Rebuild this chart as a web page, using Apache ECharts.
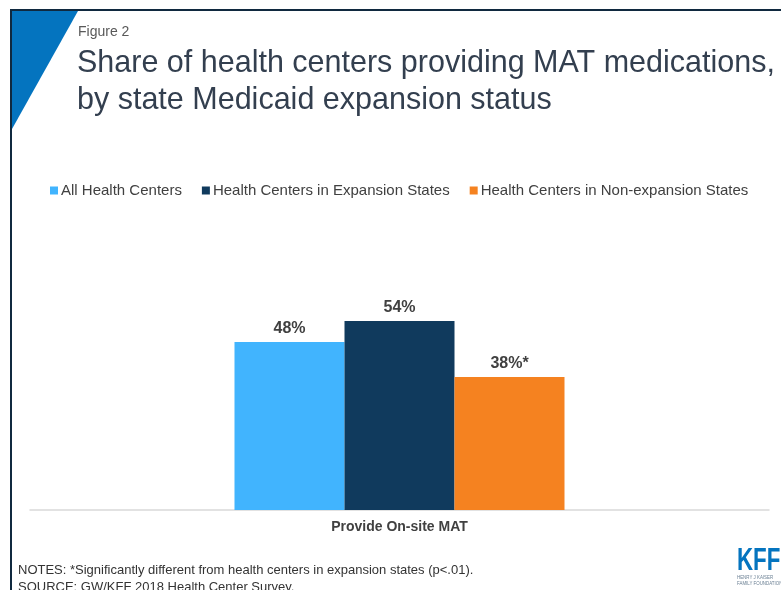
<!DOCTYPE html>
<html>
<head>
<meta charset="utf-8">
<script src="https://cdn.jsdelivr.net/npm/echarts@6/dist/echarts.min.js"></script>
<style>
  html, body { margin: 0; padding: 0; background: #fff; }
  #chart { width: 781px; height: 590px; }
</style>
</head>
<body>
<div id="chart"></div>
<script>
// chart data
var categories = ['Provide On-site MAT']
var seriesNames = ['All Health Centers', 'Health Centers in Expansion States', 'Health Centers in Non-expansion States']
var seriesValues = [[48], [54], [38]]
var valueLabels = [['48%'], ['54%'], ['38%*']]
var seriesColors = ['#41b4fe', '#103a5d', '#f58220']

var chart = echarts.init(document.getElementById('chart'))

var series = seriesNames.map(function (name, i) {
  return {
    name: name,
    type: 'bar',
    data: seriesValues[i],
    barWidth: 110,
    barGap: '0%',
    itemStyle: { color: seriesColors[i] },
    label: {
      show: true,
      position: 'top',
      distance: 5,
      color: '#404040',
      fontWeight: 'bold',
      fontSize: 16,
      fontFamily: 'Liberation Sans, Arial, sans-serif',
      formatter: function (p) { return valueLabels[i][p.dataIndex] }
    },
    animation: false
  }
})

chart.setOption({
  animation: false,
  textStyle: { fontFamily: 'Liberation Sans, Arial, sans-serif' },
  legend: {
    data: seriesNames,
    top: 183,
    left: 50,
    padding: 0,
    icon: 'rect',
    itemWidth: 8,
    itemHeight: 8,
    itemGap: 20,
    textStyle: { fontSize: 15, color: '#404040', padding: [0, 0, 0, -2] }
  },
  grid: { left: 30, right: 12, top: 160, bottom: 80 },
  xAxis: {
    type: 'category',
    data: categories,
    axisLine: { lineStyle: { color: '#d9d9d9', width: 1.5 } },
    axisTick: { show: false },
    axisLabel: { color: '#404040', fontWeight: 'bold', fontSize: 14, margin: 10 }
  },
  yAxis: {
    type: 'value',
    min: 0,
    max: 100,
    show: false,
    splitLine: { show: false }
  },
  series: series,
  graphic: [
    // frame lines
    { type: 'rect', shape: { x: 10, y: 9, width: 771, height: 2 }, style: { fill: '#10293f' } },
    { type: 'rect', shape: { x: 10, y: 9, width: 2, height: 581 }, style: { fill: '#10293f' } },
    // blue corner
    { type: 'polygon', shape: { points: [[12, 11], [78, 11], [12, 129]] }, style: { fill: '#0474bf' } },
    { type: 'text', left: 78, top: 25, style: { text: 'Figure 2', fontSize: 14, fill: '#595959', fontFamily: 'Liberation Sans, Arial, sans-serif' } },
    { type: 'text', left: 77, top: 45, style: {
      text: 'Share of health centers providing MAT medications,\nby state Medicaid expansion status',
      fontSize: 30.5, lineHeight: 37, fill: '#333f4f', fontFamily: 'Liberation Sans, Arial, sans-serif' } },
    { type: 'text', left: 18, top: 562, style: {
      text: 'NOTES: *Significantly different from health centers in expansion states (p<.01).\nSOURCE: GW/KFF 2018 Health Center Survey.',
      fontSize: 13, lineHeight: 17, fill: '#333333', fontFamily: 'Liberation Sans, Arial, sans-serif' } },
    // logo
    { type: 'text', x: 737, y: 546, scaleX: 0.72, style: { text: 'KFF', fontSize: 31, fontWeight: 'bold', fill: '#0474bf', fontFamily: 'Liberation Sans, Arial, sans-serif' } },
    { type: 'text', x: 737, y: 574, scaleX: 0.8, style: { text: 'HENRY J KAISER\nFAMILY FOUNDATION', fontSize: 5.5, lineHeight: 6, fill: '#6a7f93', fontFamily: 'Liberation Sans, Arial, sans-serif' } }
  ]
})
</script>
</body>
</html>
